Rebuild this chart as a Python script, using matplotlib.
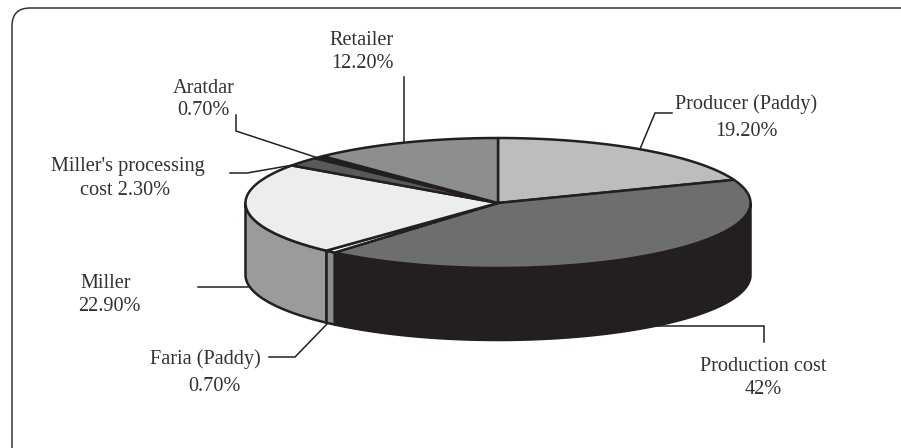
import numpy as np
import matplotlib
matplotlib.use("Agg")
import matplotlib.pyplot as plt
from matplotlib.patches import FancyBboxPatch

label_lines = [["Producer (Paddy)", "19.20%"], ["Production cost", "42%"], ["Faria (Paddy)", "0.70%"],
               ["Miller", "22.90%"], ["Miller's processing", "cost 2.30%"], ["Aratdar", "0.70%"],
               ["Retailer", "12.20%"]]
values = [19.2, 42.0, 0.7, 22.9, 2.3, 0.7, 12.2]
top_colors = ["#bcbdbf", "#6d6e70", "#ffffff", "#eceeee", "#58595b", "#231f20", "#8d8e90"]
side_colors = ["#bcbdbf", "#231f20", "#8a8c8e", "#9a9b9d", "#58595b", "#8a8c8e", "#8d8e90"]
line_pos = [[(746, 103), (746, 130)], [(763, 365), (763, 388)], [(205, 358), (214, 385)],
            [(106, 282), (109, 305)], [(128, 165), (125, 189)], [(204, 87), (203, 109)],
            [(362, 39), (362, 62)]]
leaders = [[(672, 113), (655, 113), (640, 149)],
           [(560, 326), (764, 326), (764, 342)],
           [(328, 323), (295, 357), (269, 357)],
           [(248, 287), (198, 287)],
           [(293, 165), (247, 173), (230, 173)],
           [(318, 158), (236, 131), (236, 115)],
           [(404, 142), (404, 77)]]

CX, CY, RX, RY, DEPTH = 498, 203, 252.5, 65, 72

fig = plt.figure(figsize=(9.01, 4.48), dpi=100)
ax = fig.add_axes([0, 0, 1, 1])
ax.set_xlim(0, 901)
ax.set_ylim(448, 0)
ax.axis("off")

ax.add_patch(FancyBboxPatch((12, 8), 960, 470, boxstyle="round,pad=0,rounding_size=18",
                            fc="white", ec="#333333", lw=1.1))


def rim(a0, a1):
    t = np.radians(np.linspace(a0, a1, max(int(abs(a1 - a0) * 2), 2)))
    return CX + RX * np.sin(t), CY - RY * np.cos(t)


edges = np.concatenate([[0], np.cumsum(values)]) * 3.6
INK = "#231f20"

for pts in leaders:
    xs, ys = zip(*pts)
    ax.plot(xs, ys, color=INK, lw=1.1, zorder=1, solid_joinstyle="miter")

# side walls (only the front half, 90..270 degrees, is visible)
for a0, a1, c in zip(edges[:-1], edges[1:], side_colors):
    lo, hi = max(a0, 90), min(a1, 270)
    if hi <= lo:
        continue
    x, y = rim(lo, hi)
    px = np.concatenate([x, x[::-1]])
    py = np.concatenate([y, y[::-1] + DEPTH])
    ax.fill(px, py, fc=c, ec=INK, lw=1.8, joinstyle="round", zorder=2)

# top surface
for a0, a1, c in zip(edges[:-1], edges[1:], top_colors):
    x, y = rim(a0, a1)
    ax.fill(np.r_[CX, x], np.r_[CY, y], fc=c, ec=INK, lw=1.8, joinstyle="round", zorder=3)

for pos, lines in zip(line_pos, label_lines):
    for (x, y), s in zip(pos, lines):
        ax.text(x, y + 1.5, s, ha="center", va="center", family="Liberation Serif", fontsize=14.6,
                color="#333132")

fig.savefig("out.png", dpi=100)
